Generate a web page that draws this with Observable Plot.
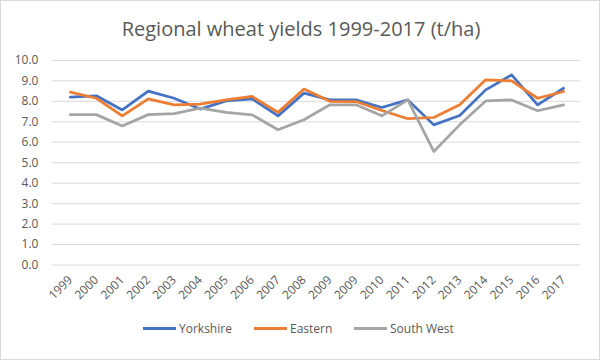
<!DOCTYPE html>
<html>
<head>
<meta charset="utf-8">
<script src="https://cdn.jsdelivr.net/npm/d3@7"></script>
<script src="https://cdn.jsdelivr.net/npm/@observablehq/plot@0.6"></script>
<style>
  html, body { margin: 0; padding: 0; background: #fff; }
  #chart { position: relative; width: 600px; height: 360px; box-sizing: border-box; border: 1px solid #d9d9d9; overflow: hidden; font-family: "Open Sans", "Liberation Sans", sans-serif; }
  #title { position: absolute; left: 0; top: 14px; width: 600px; text-align: center; font-size: 20px; color: #595959; }
  #plot { position: absolute; left: -1px; top: -1px; }
  .leg { position: absolute; top: 319px; font-size: 12px; color: #595959; display: flex; align-items: center; }
  .leg span.sw { display: inline-block; width: 33px; height: 3px; margin-right: 3px; }
</style>
</head>
<body>
<div id="chart">
  <div id="plot"></div>
  <div id="title">Regional wheat yields 1999-2017 (t/ha)</div>
</div>
<script>
const years = ["1999","2000","2001","2002","2003","2004","2005","2006","2007","2008","2009","2009","2010","2011","2012","2013","2014","2015","2016","2017"];
const yorkshire = [8.2, 8.27, 7.58, 8.5, 8.15, 7.62, 8.02, 8.12, 7.29, 8.4, 8.07, 8.07, 7.7, 8.07, 6.85, 7.31, 8.56, 9.29, 7.83, 8.64];
const eastern   = [8.45, 8.15, 7.29, 8.12, 7.83, 7.86, 8.07, 8.24, 7.46, 8.6, 8.0, 7.99, 7.55, 7.15, 7.21, 7.83, 9.05, 9.0, 8.15, 8.48];
const southWest = [7.35, 7.35, 6.8, 7.35, 7.4, 7.67, 7.46, 7.34, 6.61, 7.1, 7.83, 7.83, 7.29, 8.07, 5.55, 6.85, 8.02, 8.07, 7.54, 7.83];
const yTicks = [0, 1, 2, 3, 4, 5, 6, 7, 8, 9, 10];
const seriesNames = ["Yorkshire", "Eastern", "South West"];
const seriesColors = ["#4472C4", "#ED7D31", "#A5A5A5"];
const legendX = [142, 253, 353];

const seriesValues = [yorkshire, eastern, southWest];
const rows = [];
seriesNames.forEach((name, s) => {
  seriesValues[s].forEach((v, i) => rows.push({i, year: years[i], region: name, value: v}));
});

const chart = Plot.plot({
  width: 600,
  height: 316,
  marginTop: 60,
  marginBottom: 51,
  marginLeft: 52,
  marginRight: 19,
  style: { fontFamily: "'Open Sans', 'Liberation Sans', sans-serif", fontSize: "12px", color: "#595959", background: "transparent", overflow: "visible" },
  x: { type: "point", domain: d3.range(years.length), padding: 0.5, label: null, tickFormat: i => years[i], tickRotate: -45, tickSize: 0, tickPadding: 13 },
  y: { domain: [0, 10], ticks: yTicks, tickFormat: d3.format(".1f"), label: null, tickSize: 0, tickPadding: 14 },
  color: { domain: seriesNames, range: seriesColors },
  marks: [
    Plot.ruleY(yTicks, { stroke: "#d9d9d9", strokeWidth: 1 }),
    Plot.lineY(rows, { x: "i", y: "value", z: "region", stroke: "region", strokeWidth: 2.75, strokeLinejoin: "round", strokeLinecap: "round" })
  ]
});
document.getElementById("plot").appendChild(chart);

const container = document.getElementById("chart");
seriesNames.forEach((name, s) => {
  const d = document.createElement("div");
  d.className = "leg";
  d.style.left = legendX[s] + "px";
  const sw = document.createElement("span");
  sw.className = "sw";
  sw.style.background = seriesColors[s];
  d.appendChild(sw);
  d.appendChild(document.createTextNode(name));
  container.appendChild(d);
});
</script>
</body>
</html>
